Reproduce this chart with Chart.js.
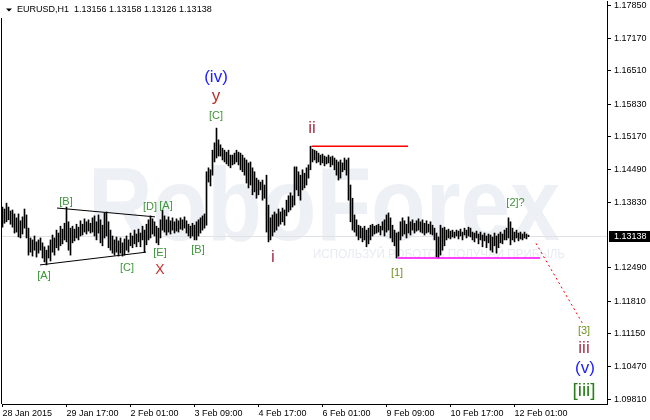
<!DOCTYPE html>
<html><head><meta charset="utf-8">
<script src="https://cdn.jsdelivr.net/npm/chart.js@4/dist/chart.umd.min.js"></script>
<style>html,body{margin:0;padding:0;background:#fff;}canvas{display:block;}</style>
</head><body>
<canvas id="c" width="650" height="420"></canvas>
<script>
// ---- data (EURUSD H1, one bar per hour) ----
const barHigh = [
1.1373,1.1369,1.1381,1.1373,1.1365,1.1367,1.1359,1.1351,1.1359,1.1345,
1.1353,1.1369,1.1357,1.1330,1.1310,1.1306,1.1314,1.1302,1.1306,1.1310,
1.1300,1.1292,1.1285,1.1294,1.1306,1.1316,1.1310,1.1326,1.1320,1.1334,
1.1328,1.1340,1.1373,1.1343,1.1330,1.1334,1.1328,1.1338,1.1332,1.1345,
1.1338,1.1349,1.1343,1.1347,1.1340,1.1351,1.1355,1.1343,1.1357,1.1347,
1.1336,1.1361,1.1363,1.1343,1.1326,1.1314,1.1306,1.1312,1.1304,1.1310,
1.1300,1.1308,1.1314,1.1306,1.1320,1.1314,1.1326,1.1318,1.1328,1.1320,
1.1334,1.1326,1.1338,1.1347,1.1355,1.1349,1.1343,1.1334,1.1330,1.1347,
1.1367,1.1355,1.1347,1.1353,1.1345,1.1351,1.1343,1.1349,1.1345,1.1351,
1.1347,1.1353,1.1345,1.1338,1.1334,1.1340,1.1336,1.1343,1.1347,1.1351,
1.1355,1.1359,1.1445,1.1453,1.1449,1.1489,1.1504,1.1534,1.1510,1.1500,
1.1493,1.1489,1.1485,1.1489,1.1479,1.1479,1.1483,1.1489,1.1485,1.1483,
1.1479,1.1473,1.1469,1.1463,1.1465,1.1453,1.1445,1.1432,1.1428,1.1424,
1.1428,1.1418,1.1438,1.1377,1.1351,1.1357,1.1363,1.1359,1.1369,1.1363,
1.1371,1.1367,1.1387,1.1396,1.1402,1.1396,1.1455,1.1455,1.1445,1.1438,
1.1449,1.1442,1.1453,1.1459,1.1497,1.1491,1.1489,1.1487,1.1483,1.1479,
1.1481,1.1477,1.1475,1.1479,1.1475,1.1477,1.1473,1.1469,1.1465,1.1469,
1.1463,1.1473,1.1469,1.1473,1.1418,1.1391,1.1357,1.1347,1.1336,1.1334,
1.1330,1.1334,1.1326,1.1330,1.1336,1.1338,1.1334,1.1336,1.1338,1.1334,
1.1343,1.1347,1.1357,1.1361,1.1351,1.1336,1.1326,1.1320,1.1322,1.1343,
1.1351,1.1345,1.1338,1.1353,1.1343,1.1347,1.1340,1.1345,1.1349,1.1343,
1.1347,1.1340,1.1345,1.1338,1.1343,1.1336,1.1330,1.1320,1.1312,1.1336,
1.1330,1.1332,1.1326,1.1328,1.1324,1.1326,1.1322,1.1326,1.1324,1.1328,
1.1322,1.1330,1.1326,1.1332,1.1330,1.1322,1.1320,1.1324,1.1318,1.1322,
1.1316,1.1320,1.1314,1.1318,1.1316,1.1312,1.1320,1.1314,1.1318,1.1322,
1.1318,1.1326,1.1330,1.1351,1.1343,1.1330,1.1322,1.1326,1.1320,1.1322,
1.1318,1.1322,1.1318,1.13158
];
const barLow = [
1.1332,1.1340,1.1343,1.1347,1.1338,1.1332,1.1320,1.1322,1.1312,1.1310,
1.1318,1.1330,1.1310,1.1275,1.1281,1.1273,1.1285,1.1271,1.1279,1.1285,
1.1269,1.1261,1.1255,1.1269,1.1263,1.1281,1.1275,1.1290,1.1285,1.1294,
1.1298,1.1306,1.1302,1.1285,1.1275,1.1300,1.1304,1.1310,1.1306,1.1314,
1.1316,1.1322,1.1318,1.1324,1.1320,1.1322,1.1314,1.1306,1.1320,1.1300,
1.1294,1.1310,1.1314,1.1290,1.1285,1.1279,1.1275,1.1281,1.1273,1.1279,
1.1273,1.1275,1.1285,1.1281,1.1294,1.1290,1.1298,1.1292,1.1302,1.1292,
1.1306,1.1281,1.1296,1.1306,1.1310,1.1318,1.1314,1.1300,1.1296,1.1310,
1.1326,1.1322,1.1316,1.1322,1.1318,1.1326,1.1320,1.1324,1.1322,1.1328,
1.1326,1.1330,1.1320,1.1314,1.1310,1.1314,1.1306,1.1306,1.1314,1.1320,
1.1326,1.1330,1.1336,1.1424,1.1416,1.1438,1.1465,1.1473,1.1477,1.1477,
1.1469,1.1465,1.1461,1.1457,1.1453,1.1459,1.1461,1.1465,1.1459,1.1449,
1.1445,1.1438,1.1422,1.1412,1.1418,1.1398,1.1404,1.1391,1.1398,1.1408,
1.1387,1.1391,1.1322,1.1302,1.1306,1.1314,1.1322,1.1326,1.1334,1.1338,
1.1343,1.1336,1.1355,1.1363,1.1367,1.1373,1.1377,1.1408,1.1396,1.1387,
1.1408,1.1412,1.1418,1.1432,1.1449,1.1465,1.1469,1.1463,1.1465,1.1459,
1.1463,1.1457,1.1461,1.1463,1.1455,1.1459,1.1449,1.1438,1.1428,1.1432,
1.1445,1.1449,1.1438,1.1387,1.1343,1.1326,1.1322,1.1314,1.1306,1.1310,
1.1302,1.1306,1.1292,1.1298,1.1306,1.1314,1.1318,1.1320,1.1322,1.1316,
1.1326,1.1314,1.1322,1.1326,1.1310,1.1302,1.1294,1.1269,1.1273,1.1306,
1.1314,1.1318,1.1310,1.1320,1.1316,1.1326,1.1320,1.1324,1.1326,1.1322,
1.1320,1.1316,1.1320,1.1322,1.1318,1.1316,1.1306,1.1271,1.1269,1.1275,
1.1285,1.1294,1.1306,1.1310,1.1308,1.1312,1.1310,1.1314,1.1308,1.1314,
1.1306,1.1316,1.1310,1.1314,1.1312,1.1306,1.1302,1.1310,1.1298,1.1306,
1.1292,1.1304,1.1290,1.1300,1.1285,1.1281,1.1294,1.1279,1.1290,1.1300,
1.1298,1.1306,1.1306,1.1310,1.1296,1.1306,1.1302,1.1310,1.1304,1.1308,
1.1306,1.1310,1.1308,1.13126
];
const xTickIndex  = [0, 32, 64, 96, 128, 160, 192, 224, 256];
const xTickLabels = ['28 Jan 2015','29 Jan 17:00','2 Feb 01:00','3 Feb 09:00','4 Feb 17:00','6 Feb 01:00','9 Feb 09:00','10 Feb 17:00','12 Feb 01:00'];
const yTickValues = [1.17850,1.17170,1.16510,1.15830,1.15170,1.14490,1.13830,1.12490,1.11810,1.11150,1.10470,1.09810];
const yTickLabels = ['1.17850','1.17170','1.16510','1.15830','1.15170','1.14490','1.13830','1.12490','1.11810','1.11150','1.10470','1.09810'];
const lastQuote = {open:1.13156, high:1.13158, low:1.13126, close:1.13138, text:'1.13138'};
const triangleUpper = [{x:27.25, y:1.1371}, {x:76.25, y:1.1353}];
const triangleLower = [{x:18.75, y:1.1255}, {x:71.75, y:1.1281}];
const waveIILevel   = [{x:154.5, y:1.1497}, {x:202.75, y:1.1497}];
const wave1Level    = [{x:197.5, y:1.1269}, {x:268.75, y:1.1269}];
const forecastPath  = [{x:266.75, y:1.1299}, {x:290.4, y:1.1133}];

// ---- annotation texts (anchored in data coordinates) ----
const waveLabels = [
  {t:'(iv)', i:106.75, p:1.1638, c:'#2222f2', s:17},
  {t:'y',    i:106.75, p:1.1598, c:'#b3302b', s:17},
  {t:'[C]',  i:106.75, p:1.1559, c:'#3f963a', s:11},
  {t:'ii',   i:154.75, p:1.1534, c:'#a3344e', s:17},
  {t:'i',    i:135.25, p:1.1271, c:'#a3344e', s:17},
  {t:'[1]',  i:197.25, p:1.1239, c:'#6f8f1e', s:11},
  {t:'[2]?', i:256.5,  p:1.1381, c:'#3f963a', s:11},
  {t:'[3]',  i:290.75, p:1.1120, c:'#6f8f1e', s:11},
  {t:'iii',  i:290.75, p:1.1084, c:'#a3344e', s:17},
  {t:'(v)',  i:291.25, p:1.1045, c:'#2222f2', s:17},
  {t:'[iii]',i:290.75, p:1.0998, c:'#2b7d1c', s:19},
  {t:'[A]',  i:20.75,  p:1.1232, c:'#3f963a', s:11},
  {t:'[B]',  i:31.75,  p:1.1383, c:'#3f963a', s:11},
  {t:'[C]',  i:62.25,  p:1.1249, c:'#3f963a', s:11},
  {t:'[D]',  i:73.75,  p:1.1373, c:'#3f963a', s:11},
  {t:'[A]',  i:81.75,  p:1.1375, c:'#3f963a', s:11},
  {t:'[E]',  i:78.75,  p:1.1279, c:'#3f963a', s:11},
  {t:'X',    i:78.75,  p:1.1245, c:'#c0342c', s:14},
  {t:'[B]',  i:97.75,  p:1.1285, c:'#3f963a', s:11}
];

const FONT = '"Liberation Sans", Arial, sans-serif';

const backPlugin = {
  id: 'back',
  beforeDatasetsDraw(chart) {
    const {ctx, chartArea: a, scales: {y}} = chart;
    ctx.save();
    ctx.fillStyle = '#edf0f5';
    ctx.font = 'bold 104px ' + FONT;
    ctx.textBaseline = 'alphabetic';
    const w = ctx.measureText('RoboForex').width;
    ctx.translate(88, 240);
    ctx.scale(472 / w, 1);
    ctx.fillText('RoboForex', 0, 0);
    ctx.restore();
    ctx.save();
    ctx.fillStyle = '#e8ebf1';
    ctx.font = '12px ' + FONT;
    const s = 'ИСПОЛЬЗУЙ РОБОТОВ ПОЛУЧАЙ ПРИБЫЛЬ';
    const w2 = ctx.measureText(s).width;
    ctx.translate(313, 258);
    ctx.scale(252 / w2, 1);
    ctx.fillText(s, 0, 0);
    ctx.restore();
    ctx.save();
    const by = Math.round(y.getPixelForValue(lastQuote.close)) + 0.5;
    ctx.strokeStyle = '#dfe2e7';
    ctx.lineWidth = 1;
    ctx.beginPath(); ctx.moveTo(a.left, by); ctx.lineTo(a.right, by); ctx.stroke();
    ctx.restore();
  }
};

const frontPlugin = {
  id: 'front',
  afterDraw(chart) {
    const {ctx, chartArea: a, scales: {x, y}} = chart;
    ctx.save();
    // wave labels
    ctx.textAlign = 'center';
    ctx.textBaseline = 'middle';
    waveLabels.forEach(l => {
      ctx.font = l.s + 'px ' + FONT;
      ctx.fillStyle = l.c;
      ctx.fillText(l.t, x.getPixelForValue(l.i), y.getPixelForValue(l.p));
    });
    // title
    ctx.fillStyle = '#000';
    ctx.beginPath(); ctx.moveTo(6, 8.5); ctx.lineTo(12, 8.5); ctx.lineTo(9, 11.5); ctx.closePath(); ctx.fill();
    ctx.font = '9px ' + FONT;
    ctx.textAlign = 'left';
    ctx.fillText('EURUSD,H1  ' + [lastQuote.open, lastQuote.high, lastQuote.low, lastQuote.close].map(v => v.toFixed(5)).join(' '), 17, 10);
    // left frame line
    ctx.fillRect(1, 18, 1, a.bottom - 18);
    // bid price box
    const by = y.getPixelForValue(lastQuote.close);
    ctx.fillRect(a.right + 2, Math.round(by) - 5, 650 - a.right - 2, 11);
    ctx.fillStyle = '#fff';
    ctx.fillText(lastQuote.text, a.right + 7, Math.round(by) + 0.5);
    ctx.restore();
  }
};

new Chart(document.getElementById('c'), {
  data: {
    datasets: [
      {type:'line', data: triangleUpper, borderColor:'#000', borderWidth:1, pointRadius:0, order:0},
      {type:'line', data: triangleLower, borderColor:'#000', borderWidth:1, pointRadius:0, order:0},
      {type:'line', data: waveIILevel, borderColor:'#ff0000', borderWidth:1.5, pointRadius:0, order:0},
      {type:'line', data: wave1Level, borderColor:'#ff00ff', borderWidth:1.5, pointRadius:0, order:0},
      {type:'line', data: forecastPath, borderColor:'#ff0000', borderWidth:1, borderDash:[2,3], pointRadius:0, order:0},
      {type:'bar', data: barHigh.map((h, i) => ({x: i, y: [barLow[i], h]})),
       backgroundColor:'#000', borderWidth:0, barThickness:1, grouped:false, order:1}
    ]
  },
  options: {
    responsive:false, animation:false, devicePixelRatio:1, events:[],
    layout:{padding:{top:1, left:2, right:0, bottom:0}},
    plugins:{legend:{display:false}, tooltip:{enabled:false}},
    scales:{
      x:{
        type:'linear', min:-0.25, max:302.25, offset:false,
        grid:{offset:false, drawOnChartArea:false, drawTicks:true, tickLength:3, color:'#000'},
        border:{display:true, color:'#000', width:1},
        afterBuildTicks: s => { s.ticks = xTickIndex.map(v => ({value:v})); },
        afterFit: s => { s.height = 16; s.paddingLeft = 0; s.paddingRight = 0; },
        ticks:{autoSkip:false, maxRotation:0, minRotation:0, align:'start', padding:1,
          color:'#000', font:{family:FONT, size:9},
          callback:(v, i) => xTickLabels[i]}
      },
      y:{
        type:'linear', position:'right', min:1.09714, max:1.17932,
        grid:{drawOnChartArea:false, drawTicks:true, tickLength:4, color:'#000'},
        border:{display:true, color:'#000', width:1},
        afterBuildTicks: s => { s.ticks = yTickValues.map(v => ({value:v})); },
        afterFit: s => { s.width = 43; s.paddingTop = 0; s.paddingBottom = 0; },
        ticks:{autoSkip:false, padding:3, color:'#000', font:{family:FONT, size:9},
          callback:(v, i) => yTickLabels[i]}
      }
    }
  },
  plugins:[backPlugin, frontPlugin]
});
</script>
</body></html>
